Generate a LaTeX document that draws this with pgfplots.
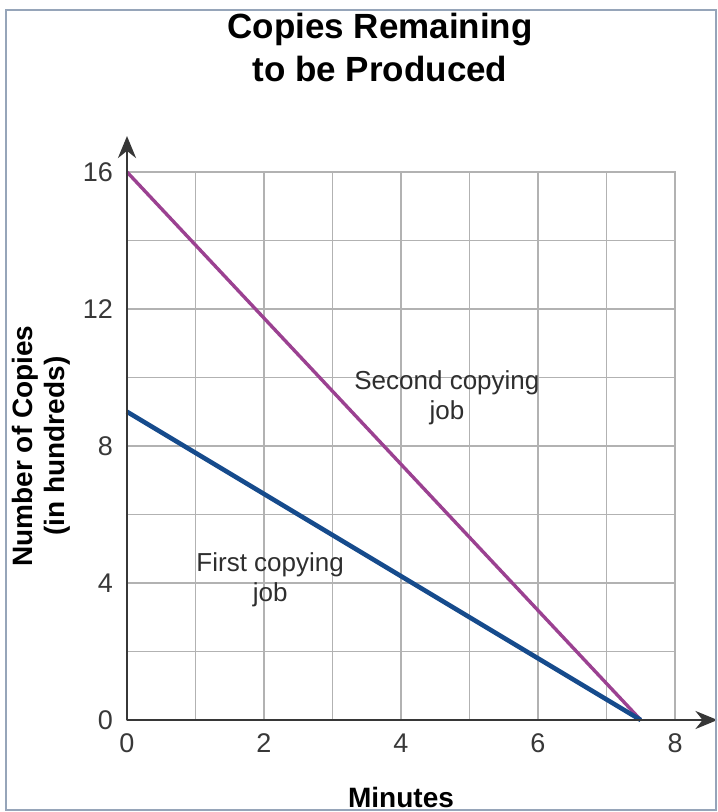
\documentclass[border=0pt]{standalone}
\usepackage{pgfplots}
\pgfplotsset{compat=1.18}
\usepackage{fontspec}
\setmainfont{Liberation Sans}
\usetikzlibrary{arrows.meta}
\definecolor{jobpurple}{RGB}{155,65,145}
\definecolor{jobblue}{RGB}{22,75,140}
\definecolor{gridgray}{RGB}{178,178,178}
\definecolor{axisgray}{RGB}{55,55,55}
\definecolor{framecol}{RGB}{150,165,185}
\begin{document}
\begin{tikzpicture}
\begin{axis}[
  at={(0,0)}, anchor=south west,
  width=274pt, height=274pt, scale only axis,
  xmin=0, xmax=8, ymin=0, ymax=16,
  xtick={0,2,4,6,8}, minor xtick={1,3,5,7},
  ytick={0,4,8,12,16}, minor ytick={2,6,10,14},
  grid=both,
  major grid style={gridgray, line width=0.8pt},
  minor grid style={gridgray, line width=0.8pt},
  axis line style={gridgray, line width=0.8pt},
  major tick length=0pt, minor tick length=0pt,
  tick label style={font=\fontsize{13.5}{15}\selectfont, text=black!78},
  /pgf/number format/assume math mode=true,
  xticklabel style={yshift=-3.5pt},
  yticklabel style={xshift=-3.5pt},
  clip=false,
]
\addplot[jobpurple, line width=1.7pt] coordinates {(0,16) (7.5,0)};
\addplot[jobblue, line width=2.3pt] coordinates {(0,9) (7.5,0)};
\draw[axisgray, line width=1.4pt, -{Stealth[length=11pt,width=9pt]}] (axis cs:0,0) -- (axis cs:8.62,0);
\draw[axisgray, line width=1.4pt, -{Stealth[length=11pt,width=9pt]}] (axis cs:0,0) -- (axis cs:0,17.05);
\node[align=center, font=\fontsize{13}{15}\selectfont, text=black!82] at (axis cs:4.67,9.4) {Second copying\\job};
\node[align=center, font=\fontsize{13}{15}\selectfont, text=black!82] at (axis cs:2.09,4.1) {First copying\\job};
\node[align=center, font=\bfseries\fontsize{17.5}{21.5}\selectfont] at (axis description cs:0.4617,1.2263) {Copies Remaining\\to be Produced};
\node[rotate=90, align=center, font=\bfseries\fontsize{14}{16}\selectfont] at (axis description cs:-0.157,0.5) {Number of Copies\\(in hundreds)};
\node[font=\bfseries\fontsize{14}{16}\selectfont] at (axis description cs:0.5,-0.1405) {Minutes};
\end{axis}
\draw[framecol, line width=0.8pt] (-60.5pt,355pt) rectangle (294.5pt,-45pt);
\pgfresetboundingbox
\useasboundingbox (-63.5pt,-46pt) rectangle (295pt,360pt);
\end{tikzpicture}
\end{document}
